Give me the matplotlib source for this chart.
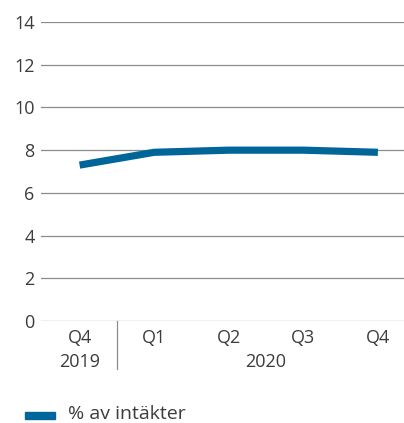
import matplotlib.pyplot as plt
from matplotlib.patches import Rectangle

quarters = ["Q4", "Q1", "Q2", "Q3", "Q4"]
years = ["2019", "2020"]
year_span = [(0, 0), (1, 4)]
values = [7.3, 7.9, 8.0, 8.0, 7.9]
series_name = "% av intäkter"

BLUE = "#00669a"
GRID = "#8c8c8c"
TEXT = "#3c3c3c"
FS = 13

plt.rcParams["font.family"] = ["Open Sans", "DejaVu Sans"]

fig = plt.figure(figsize=(4.04, 4.23), dpi=100)
ax = fig.add_axes([0.101, 0.241, 0.899, 0.707])

x = list(range(len(values)))
ax.plot(x, values, color=BLUE, linewidth=5.2, solid_capstyle="butt", zorder=3)

ax.set_ylim(0, 14)
ax.set_xlim(-0.52, 4.35)
ax.set_yticks(range(0, 15, 2))
ax.yaxis.grid(True, color=GRID, linewidth=0.9)
ax.set_axisbelow(True)
for s in ax.spines.values():
    s.set_visible(False)
ax.tick_params(axis="y", length=0, pad=4.5, labelsize=FS, labelcolor=TEXT)
ax.set_yticklabels([str(v) for v in range(0, 15, 2)], ha="right")
ax.set_xticks([])

# quarter labels and year labels below the axis
for i, q in enumerate(quarters):
    ax.annotate(q, (i, 0), xytext=(0, -12.5), textcoords="offset points",
                ha="center", va="center", fontsize=FS, color=TEXT,
                annotation_clip=False)
for yr, (a, b) in zip(years, year_span):
    ax.annotate(yr, ((a + b) / 2, 0), xytext=(0, -29.5), textcoords="offset points",
                ha="center", va="center", fontsize=FS, color=TEXT,
                annotation_clip=False)

# separator between years
sep = plt.Line2D([0.5, 0.5], [0, -2.25], color=GRID, linewidth=0.9,
                 transform=ax.transData, clip_on=False)
ax.add_line(sep)

# legend
fig.patches.append(Rectangle((25 / 404, 1 - 419 / 423), 30 / 404, 7 / 423,
                             transform=fig.transFigure, color=BLUE))
fig.text(68 / 404, 1 - 414 / 423, series_name, fontsize=14, color=TEXT,
         va="center", ha="left")

fig.savefig("out.png", dpi=100)
